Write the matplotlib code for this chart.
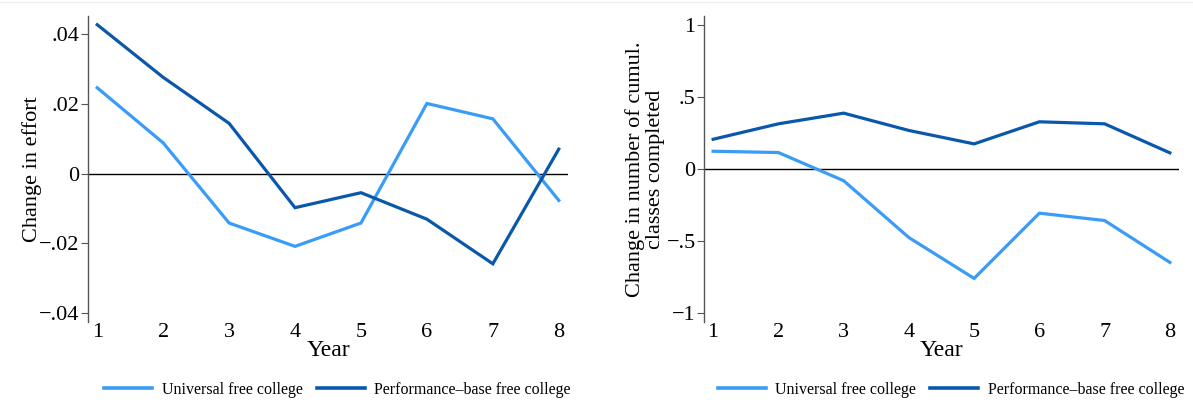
import matplotlib
matplotlib.use("Agg")
import matplotlib.pyplot as plt
from matplotlib.lines import Line2D
from matplotlib.ticker import FuncFormatter

plt.rcParams['font.family'] = ['Liberation Serif', 'DejaVu Serif']

years = [1, 2, 3, 4, 5, 6, 7, 8]

# Effort, change by year
effort_universal = [0.0246, 0.0088, -0.0142, -0.0209, -0.0142, 0.0201, 0.0157, -0.0077]
effort_performance = [0.0427, 0.0276, 0.0144, -0.0098, -0.0055, -0.0131, -0.0259, 0.0070]

# Cumulative classes completed, change by year
classes_universal = [0.123, 0.114, -0.081, -0.475, -0.758, -0.306, -0.357, -0.647]
classes_performance = [0.206, 0.313, 0.387, 0.267, 0.174, 0.327, 0.313, 0.112]

series_labels = ["Universal free college", "Performance\u2013base free college"]
light_blue = "#3a9cf6"
dark_blue = "#0a58aa"


def stata_fmt(v, _):
    # Stata style labels: .04, -.02, 0, 1
    if abs(v) < 1e-12:
        return "0"
    s = ("%g" % abs(v))
    if s.startswith("0."):
        s = s[1:]
    return ("\u2212" if v < 0 else "") + s


def style_axes(ax, ylim, yticks, ylabel, labelpad):
    ax.set_xlim(0.86, 8.14)
    ax.set_ylim(*ylim)
    ax.set_yticks(yticks)
    ax.yaxis.set_major_formatter(FuncFormatter(stata_fmt))
    ax.set_xticks(years)
    ax.axhline(0, color="black", lw=1.0, zorder=1)
    for s in ["top", "right", "bottom"]:
        ax.spines[s].set_visible(False)
    ax.spines["left"].set_color("#555555")
    ax.spines["left"].set_linewidth(1.0)
    ax.tick_params(axis="y", direction="out", length=5, width=0.8, color="#555555",
                   labelsize=16, pad=1)
    ax.tick_params(axis="x", length=0, labelsize=16, pad=1)
    ax.set_xlabel("Year", fontsize=17, labelpad=-2)
    ax.set_ylabel(ylabel, fontsize=16, labelpad=labelpad, linespacing=1.1)


fig = plt.figure(figsize=(11.93, 4.04), dpi=100)
ax1 = fig.add_axes([88 / 1193, 82 / 404, 480 / 1193, 306 / 404])
ax2 = fig.add_axes([704 / 1193, 82 / 404, 475 / 1193, 306 / 404])

ax1.plot(years, effort_universal, color=light_blue, lw=2.3, solid_joinstyle="miter", zorder=2)
ax1.plot(years, effort_performance, color=dark_blue, lw=2.3, solid_joinstyle="miter", zorder=3)
style_axes(ax1, (-0.0426, 0.0452), [-0.04, -0.02, 0, 0.02, 0.04], "Change in effort", -2)

ax2.plot(years, classes_universal, color=light_blue, lw=2.3, solid_joinstyle="miter", zorder=2)
ax2.plot(years, classes_performance, color=dark_blue, lw=2.3, solid_joinstyle="miter", zorder=3)
style_axes(ax2, (-1.06, 1.06), [-1, -0.5, 0, 0.5, 1],
           "Change in number of cumul.\nclasses completed", 1)

handles = [Line2D([], [], color=light_blue, lw=2.6), Line2D([], [], color=dark_blue, lw=2.6)]
for ax in (ax1, ax2):
    ax.legend(handles, series_labels, loc="center", bbox_to_anchor=(0.52, -0.222),
              ncol=2, frameon=False, fontsize=11.5, handlelength=3.0, handletextpad=0.6,
              columnspacing=0.9, borderpad=0)

# faint top border line
fig.add_artist(Line2D([0, 1], [1 - 2 / 404, 1 - 2 / 404], color="#eeeeee", lw=1.0))

fig.savefig("out.png", dpi=100)
